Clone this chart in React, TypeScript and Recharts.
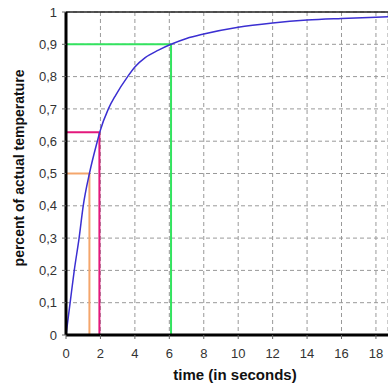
import React from "react";
import {
  LineChart,
  Line,
  XAxis,
  YAxis,
  CartesianGrid,
  ReferenceLine,
} from "recharts";

// curve (time in s, fraction of final temperature)
const times = [0, 0.24, 0.48, 0.76, 1.0, 1.36, 1.82, 1.96, 2.46, 2.89, 3.58, 4.0, 4.6, 5.37, 6.1, 7, 8, 10, 12, 14, 16, 18, 18.7];
const levels = [0, 0.1, 0.2, 0.3, 0.4, 0.5, 0.6, 0.628, 0.7, 0.743, 0.8, 0.83, 0.859, 0.882, 0.9, 0.918, 0.932, 0.953, 0.966, 0.975, 0.98, 0.984, 0.985];

// guide lines: 50 %, 63 % (one time constant), 90 %
const markerTimes = [1.36, 1.94, 6.1];
const markerLevels = [0.5, 0.628, 0.9];
const markerColors = ["#f4a66c", "#e3187c", "#33e35f"];

const xTicks = [0, 2, 4, 6, 8, 10, 12, 14, 16, 18];
const yTicks = [0, 0.1, 0.2, 0.3, 0.4, 0.5, 0.6, 0.7, 0.8, 0.9, 1];

const data = times.map((t, i) => ({ t, y: levels[i] }));

const font = "'Liberation Sans', Arial, sans-serif";
const tickStyle = { fill: "#333", fontSize: 13, fontFamily: font };

const fmtY = (v: number) => (v === 0 || v === 1 ? String(v) : v.toFixed(1).replace(".", ","));

export default function App() {
  return (
    <div style={{ position: "fixed", left: 0, top: 0, width: 388, height: 388, background: "#fff" }}>
      <LineChart width={388} height={388} data={data} margin={{ top: 12, right: 0, left: 16, bottom: 0 }}>
        <CartesianGrid stroke="#999" strokeDasharray="4 3" />
        <XAxis
          type="number"
          dataKey="t"
          domain={[0, 18.7]}
          ticks={xTicks}
          allowDataOverflow
          tick={tickStyle}
          tickSize={4}
          tickMargin={10}
          tickLine={{ stroke: "#666" }}
          axisLine={{ stroke: "#000", strokeWidth: 3 }}
          height={53}
          label={{
            content: () => (
              <text x={235} y={380} textAnchor="middle" fontFamily={font} fontWeight="bold" fontSize={15} fill="#111">
                time (in seconds)
              </text>
            ),
          }}
        />
        <YAxis
          type="number"
          domain={[0, 1]}
          ticks={yTicks}
          tickFormatter={fmtY}
          tick={tickStyle}
          tickSize={4}
          tickMargin={5}
          tickLine={{ stroke: "#666" }}
          axisLine={{ stroke: "#000", strokeWidth: 3 }}
          width={50}
          label={{
            content: () => (
              <text
                x={24}
                y={168}
                transform="rotate(-90 24 168)"
                textAnchor="middle"
                fontFamily={font}
                fontWeight="bold"
                fontSize={14}
                fill="#111"
              >
                percent of actual temperature
              </text>
            ),
          }}
        />
        <ReferenceLine y={1} stroke="#222" strokeWidth={1.5} />
        {markerTimes.map((mt, i) => (
          <ReferenceLine
            key={`h-${i}`}
            segment={[{ x: 0, y: markerLevels[i] }, { x: mt, y: markerLevels[i] }]}
            stroke={markerColors[i]}
            strokeWidth={2}
          />
        ))}
        {markerTimes.map((mt, i) => (
          <ReferenceLine
            key={`v-${i}`}
            segment={[{ x: mt, y: 0 }, { x: mt, y: markerLevels[i] }]}
            stroke={markerColors[i]}
            strokeWidth={2}
          />
        ))}
        <Line
          type="monotone"
          dataKey="y"
          stroke="#3b2fd2"
          strokeWidth={1.5}
          dot={false}
          isAnimationActive={false}
        />
      </LineChart>
    </div>
  );
}
